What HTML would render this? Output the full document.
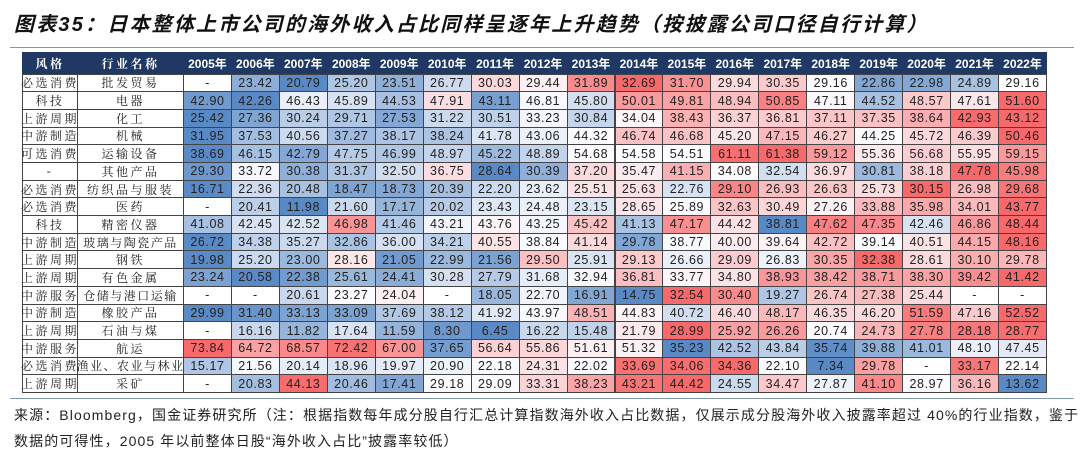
<!DOCTYPE html>
<html><head><meta charset="utf-8">
<style>
body{margin:0;width:1080px;height:460px;background:#fff;position:relative;overflow:hidden;font-family:"Liberation Sans","Noto Sans CJK SC",sans-serif;}
#title{position:absolute;left:14px;top:8px;font-size:20px;font-weight:bold;font-style:italic;color:#111;font-family:"Liberation Sans","Noto Sans CJK SC",sans-serif;letter-spacing:2.2px;white-space:nowrap;}
.rule{position:absolute;left:10px;width:1064px;height:1px;background:#7f97b2;}
.c{position:absolute;box-sizing:border-box;border:1px solid #444;display:flex;align-items:center;justify-content:center;font-size:12.5px;color:#222;white-space:nowrap;letter-spacing:0.6px;}
.h{background:#1f3864;color:#fff;font-weight:bold;font-size:12px;border-color:#1f3864;letter-spacing:0;}
.zh{font-family:"Liberation Serif","Noto Serif CJK SC",serif;font-size:12px;letter-spacing:2.5px;}
.foot{position:absolute;left:14px;font-size:14px;color:#222;font-family:"Liberation Sans","Noto Sans CJK SC",sans-serif;white-space:nowrap;letter-spacing:1.1px;}
</style></head><body>
<div id="title">图表35：日本整体上市公司的海外收入占比同样呈逐年上升趋势（按披露公司口径自行计算）</div>
<div class="rule" style="top:47px"></div>
<div id="tbl"></div>
<div class="rule" style="top:398px"></div>
<div class="foot" style="top:405px">来源：Bloomberg，国金证券研究所（注：根据指数每年成分股自行汇总计算指数海外收入占比数据，仅展示成分股海外收入披露率超过 40%的行业指数，鉴于</div>
<div class="foot" style="top:431px">数据的可得性，2005 年以前整体日股“海外收入占比”披露率较低）</div>
<script>
const years=["2005年","2006年","2007年","2008年","2009年","2010年","2011年","2012年","2013年","2014年","2015年","2016年","2017年","2018年","2019年","2020年","2021年","2022年"];
const styles=["必选消费","科技","上游周期","中游制造","可选消费","-","必选消费","必选消费","科技","中游制造","上游周期","上游周期","中游服务","中游制造","上游周期","中游服务","必选消费","上游周期"];
const industries=["批发贸易","电器","化工","机械","运输设备","其他产品","纺织品与服装","医药","精密仪器","玻璃与陶瓷产品","钢铁","有色金属","仓储与港口运输","橡胶产品","石油与煤","航运","渔业、农业与林业","采矿"];
const N=null;
const values=[
[N,23.42,20.79,25.20,23.51,26.77,30.03,29.44,31.89,32.69,31.70,29.94,30.35,29.16,22.86,22.98,24.89,29.16],
[42.90,42.26,46.43,45.89,44.53,47.91,43.11,46.81,45.80,50.01,49.81,48.94,50.85,47.11,44.52,48.57,47.61,51.60],
[25.42,27.36,30.24,29.71,27.53,31.22,30.51,33.23,30.84,34.04,38.43,36.37,36.81,37.11,37.35,38.64,42.93,43.12],
[31.95,37.53,40.56,37.27,38.17,38.24,41.78,43.06,44.32,46.74,46.68,45.20,47.15,46.27,44.25,45.72,46.39,50.46],
[38.69,46.15,42.79,47.75,46.99,48.97,45.22,48.89,54.68,54.58,54.51,61.11,61.38,59.12,55.36,56.68,55.95,59.15],
[29.30,33.72,30.38,31.37,32.50,36.75,28.64,30.39,37.20,35.47,41.15,34.08,32.54,36.97,30.81,38.18,47.78,45.98],
[16.71,22.36,20.48,18.47,18.73,20.39,22.20,23.62,25.51,25.63,22.76,29.10,26.93,26.63,25.73,30.15,26.98,29.68],
[N,20.41,11.98,21.60,17.17,20.02,23.43,24.48,23.15,28.65,25.89,32.63,30.49,27.26,33.88,35.98,34.01,43.77],
[41.08,42.45,42.52,46.98,41.46,43.21,43.76,43.25,45.42,41.13,47.17,44.42,38.81,47.62,47.35,42.46,46.86,48.44],
[26.72,34.38,35.27,32.86,36.00,34.21,40.55,38.84,41.14,29.78,38.77,40.00,39.64,42.72,39.14,40.51,44.15,48.16],
[19.98,25.20,23.00,28.16,21.05,22.99,21.56,29.50,25.91,29.13,26.66,29.09,26.83,30.35,32.38,28.61,30.10,29.78],
[23.24,20.58,22.38,25.61,24.41,30.28,27.79,31.68,32.94,36.81,33.77,34.80,38.93,38.42,38.71,38.30,39.42,41.42],
[N,N,20.61,23.27,24.04,N,18.05,22.70,16.91,14.75,32.54,30.40,19.27,26.74,27.38,25.44,N,N],
[29.99,31.40,33.13,33.09,37.69,38.12,41.92,43.97,48.51,44.83,40.72,46.40,48.17,46.35,46.20,51.59,47.16,52.52],
[N,16.16,11.82,17.64,11.59,8.30,6.45,16.22,15.48,21.79,28.99,25.92,26.26,20.74,24.73,27.78,28.18,28.77],
[73.84,64.72,68.57,72.42,67.00,37.65,56.64,55.86,51.61,51.32,35.23,42.52,43.84,35.74,39.88,41.01,48.10,47.45],
[15.17,21.56,20.14,18.96,19.97,20.90,22.18,24.31,22.02,33.69,34.06,34.36,22.10,7.34,29.78,N,33.17,22.14],
[N,20.83,44.13,20.46,17.41,29.18,29.09,33.31,38.23,43.21,44.42,24.55,34.47,27.87,41.10,28.97,36.16,13.62]
];
const X0=22,W0=55,W1=106,Y0=52,HH=21.5,TB=392;
const CW=(1046-X0-W0-W1)/years.length;
const RH=(TB-Y0-HH)/industries.length;
const tbl=document.getElementById('tbl');
function colX(j){return X0+W0+W1+j*CW;}
function rowY(i){return Y0+HH+i*RH;}
function mix(a,b,t){return a.map((v,k)=>Math.round(v+(b[k]-v)*t));}
const BLUE=[90,138,198],WHITE=[252,252,255],RED=[248,105,107];
function color(v,row){
  const vs=row.filter(x=>x!==null).sort((a,b)=>a-b);
  const mn=vs[0],mx=vs[vs.length-1];
  const n=vs.length,md=n%2?vs[(n-1)/2]:(vs[n/2-1]+vs[n/2])/2;
  let c;
  if(v<=md)c=mix(BLUE,WHITE,md===mn?1:(v-mn)/(md-mn));
  else c=mix(WHITE,RED,mx===md?1:(v-md)/(mx-md));
  return 'rgb('+c.join(',')+')';
}
function cell(x,y,w,h,txt,cls,bg){
  const d=document.createElement('div');
  d.className='c '+cls;
  d.style.left=x+'px';d.style.top=y+'px';d.style.width=(w+1)+'px';d.style.height=(h+1)+'px';
  if(bg)d.style.background=bg;
  d.textContent=txt;
  tbl.appendChild(d);
  return d;
}
let d=cell(X0,Y0,W0,HH,'风格','h zh');


d=cell(X0+W0,Y0,W1,HH,'行业名称','h zh');


years.forEach((y,j)=>{
  const e=cell(colX(j),Y0,CW,HH,y,'h');
  
  
});
industries.forEach((ind,i)=>{
  let e=cell(X0,rowY(i),W0,RH,styles[i],'zh','#fff');
  
  
  e=cell(X0+W0,rowY(i),W1,RH,ind,'zh','#fff');
  if(ind.length>6)e.style.letterSpacing='1.5px';
  
  
  values[i].forEach((v,j)=>{
    const c=cell(colX(j),rowY(i),CW,RH,v===null?'-':v.toFixed(2),'',v===null?'#fff':color(v,values[i]));
    
    
  });
});
</script>
</body></html>
